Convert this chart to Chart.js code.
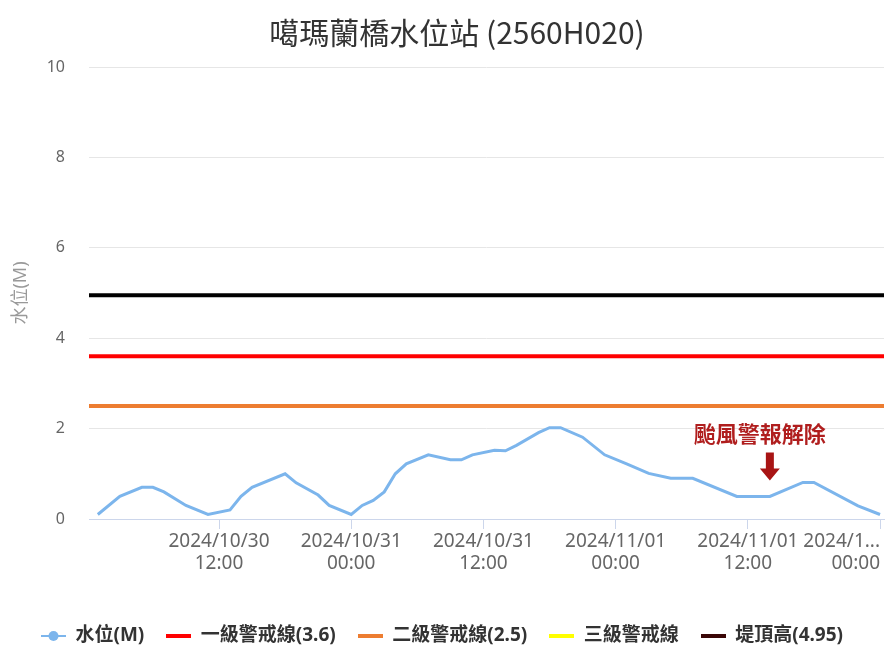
<!DOCTYPE html>
<html lang="zh-Hant">
<head>
<meta charset="UTF-8">
<title>噶瑪蘭橋水位站</title>
<script src="https://cdn.jsdelivr.net/npm/chart.js"></script>
<style>
  body { margin: 0; background: #fff; }
</style>
</head>
<body>
<canvas id="waterChart" width="888" height="647"></canvas>

<script>
// hours counted from 2024/10/30 00:00, water level in metres
const hours  = [1, 3, 5, 6, 7, 9, 11, 13, 14, 15, 18, 19, 21, 22, 24, 25, 26, 27, 28, 29, 31, 33, 34, 35, 37,
                38, 39, 41, 42, 43, 45, 47, 49, 51, 53, 55, 59, 62, 65, 66, 70, 72];
const levels = [0.1, 0.5, 0.7, 0.7, 0.6, 0.3, 0.1, 0.2, 0.5, 0.7, 1.0, 0.8, 0.53, 0.3, 0.1, 0.3, 0.41, 0.6, 1.0, 1.22, 1.42, 1.31, 1.31, 1.42, 1.52,
                1.51, 1.63, 1.91, 2.02, 2.02, 1.81, 1.42, 1.22, 1.01, 0.9, 0.9, 0.5, 0.5, 0.81, 0.81, 0.29, 0.1];

const warnLevel1 = 3.6;
const warnLevel2 = 2.5;
const bankTop = 4.95;

const seriesNames = ['水位(M)', '一級警戒線(3.6)', '二級警戒線(2.5)', '三級警戒線', '堤頂高(4.95)'];

const xTickHours = [12, 24, 36, 48, 60, 72];
const xTickLabels = [
    ['2024/10/30', '12:00'],
    ['2024/10/31', '00:00'],
    ['2024/10/31', '12:00'],
    ['2024/11/01', '00:00'],
    ['2024/11/01', '12:00'],
    ['2024/1...', '00:00']
];

const noticeText = '颱風警報解除';
const noticeHour = 62;

// axis range (hours)
const xMin = 0.2;
const xMax = 72.36;

Chart.defaults.font.family = '"Noto Sans", "Noto Sans CJK TC", sans-serif';

// small canvases used as legend symbols
function legendIcon(color, width, dot) {
    const c = document.createElement('canvas');
    c.width = 25;
    c.height = 12;
    const g = c.getContext('2d');
    g.strokeStyle = color;
    g.lineWidth = width;
    g.beginPath();
    g.moveTo(0, 6);
    g.lineTo(25, 6);
    g.stroke();
    if (dot) {
        g.fillStyle = color;
        g.beginPath();
        g.arc(12.5, 6, 5, 0, Math.PI * 2);
        g.fill();
    }
    return c;
}

const icons = [
    legendIcon('#7cb5ec', 2, true),
    legendIcon('#ff0000', 4),
    legendIcon('#ed7d31', 4),
    legendIcon('#ffff00', 4),
    legendIcon('#3a0606', 4)
];

function flatLine(v) {
    return [{x: xMin, y: v}, {x: xMax, y: v}];
}

// title sits a bit right of the canvas centre in the original
const titleShift = {
    id: 'titleShift',
    afterLayout(chart) {
        chart.titleBlock.left += 30;
    }
};

// typhoon notice text + arrow above the point
const noticePlugin = {
    id: 'notice',
    afterDatasetsDraw(chart) {
        const {ctx, scales: {x, y}} = chart;
        const i = hours.indexOf(noticeHour);
        const px = x.getPixelForValue(noticeHour);
        const py = y.getPixelForValue(levels[i]);
        const tip = py - 16;

        ctx.save();
        ctx.fillStyle = '#a81414';
        ctx.beginPath();
        ctx.moveTo(px - 4, tip - 28);
        ctx.lineTo(px + 4, tip - 28);
        ctx.lineTo(px + 4, tip - 12);
        ctx.lineTo(px + 10, tip - 12);
        ctx.lineTo(px, tip);
        ctx.lineTo(px - 10, tip - 12);
        ctx.lineTo(px - 4, tip - 12);
        ctx.closePath();
        ctx.fill();

        ctx.font = 'bold 22px "Noto Sans CJK TC", sans-serif';
        ctx.fillStyle = '#b01e1e';
        ctx.textAlign = 'center';
        ctx.textBaseline = 'middle';
        ctx.fillText(noticeText, px - 10, py - 63);
        ctx.restore();
    }
};

const myChart = new Chart(document.getElementById('waterChart'), {
    type: 'line',
    data: {
        datasets: [
            {
                label: seriesNames[0],
                data: hours.map((h, i) => ({x: h, y: levels[i]})),
                borderColor: '#7cb5ec',
                backgroundColor: '#7cb5ec',
                borderWidth: 3
            },
            {
                label: seriesNames[1],
                data: flatLine(warnLevel1),
                borderColor: '#ff0000',
                backgroundColor: '#ff0000',
                borderWidth: 4
            },
            {
                label: seriesNames[2],
                data: flatLine(warnLevel2),
                borderColor: '#ed7d31',
                backgroundColor: '#ed7d31',
                borderWidth: 4
            },
            {
                label: seriesNames[3],
                data: [],
                borderColor: '#ffff00',
                backgroundColor: '#ffff00',
                borderWidth: 4
            },
            {
                label: seriesNames[4],
                data: flatLine(bankTop),
                borderColor: '#000000',
                backgroundColor: '#000000',
                borderWidth: 4
            }
        ]
    },
    options: {
        responsive: false,
        animation: false,
        layout: {
            padding: {left: 0, right: 4, top: 0, bottom: -8.5}
        },
        elements: {
            point: {radius: 0, hoverRadius: 0},
            line: {tension: 0}
        },
        plugins: {
            title: {
                display: true,
                text: '噶瑪蘭橋水位站 (2560H020)',
                color: '#333333',
                font: {size: 30, weight: 'normal', family: '"Noto Sans CJK TC", sans-serif'},
                padding: {top: 15, bottom: 16}
            },
            legend: {
                position: 'bottom',
                labels: {
                    usePointStyle: true,
                    pointStyleWidth: 25,
                    padding: 22,
                    color: '#333333',
                    font: {size: 19, weight: 'bold'},
                    generateLabels(chart) {
                        const items = Chart.defaults.plugins.legend.labels.generateLabels(chart);
                        items.forEach((it, i) => { it.pointStyle = icons[i]; });
                        return items;
                    }
                }
            },
            tooltip: {enabled: false}
        },
        scales: {
            x: {
                type: 'linear',
                min: xMin,
                max: xMax,
                afterBuildTicks(scale) {
                    scale.ticks = [xMin].concat(xTickHours).map(v => ({value: v}));
                },
                ticks: {
                    autoSkip: false,
                    maxRotation: 0,
                    minRotation: 0,
                    align: 'inner',
                    padding: 2,
                    color: '#666666',
                    font: {size: 19, lineHeight: 1.16},
                    callback(value, index) {
                        return index === 0 ? '' : xTickLabels[index - 1];
                    }
                },
                grid: {
                    drawOnChartArea: false,
                    tickLength: 10,
                    tickColor: c => c.index === 0 ? 'rgba(0,0,0,0)' : '#ccd6eb'
                },
                border: {color: '#ccd6eb'},
                afterFit(scale) {
                    scale.height = 85.5;
                    scale.paddingLeft = 0;
                    scale.paddingRight = 0;
                }
            },
            y: {
                min: 0,
                max: 10,
                ticks: {
                    stepSize: 2,
                    padding: 24,
                    color: '#666666',
                    font: {size: 16}
                },
                grid: {color: '#e6e6e6', drawTicks: false},
                border: {display: false},
                title: {
                    display: true,
                    text: '水位(M)',
                    color: '#999999',
                    font: {size: 18},
                    padding: {top: 10, bottom: 0}
                },
                afterFit(scale) {
                    scale.width = 89;
                    scale.paddingTop = 0;
                    scale.paddingBottom = 0;
                }
            }
        }
    },
    plugins: [titleShift, noticePlugin]
});
</script>
</body>
</html>
